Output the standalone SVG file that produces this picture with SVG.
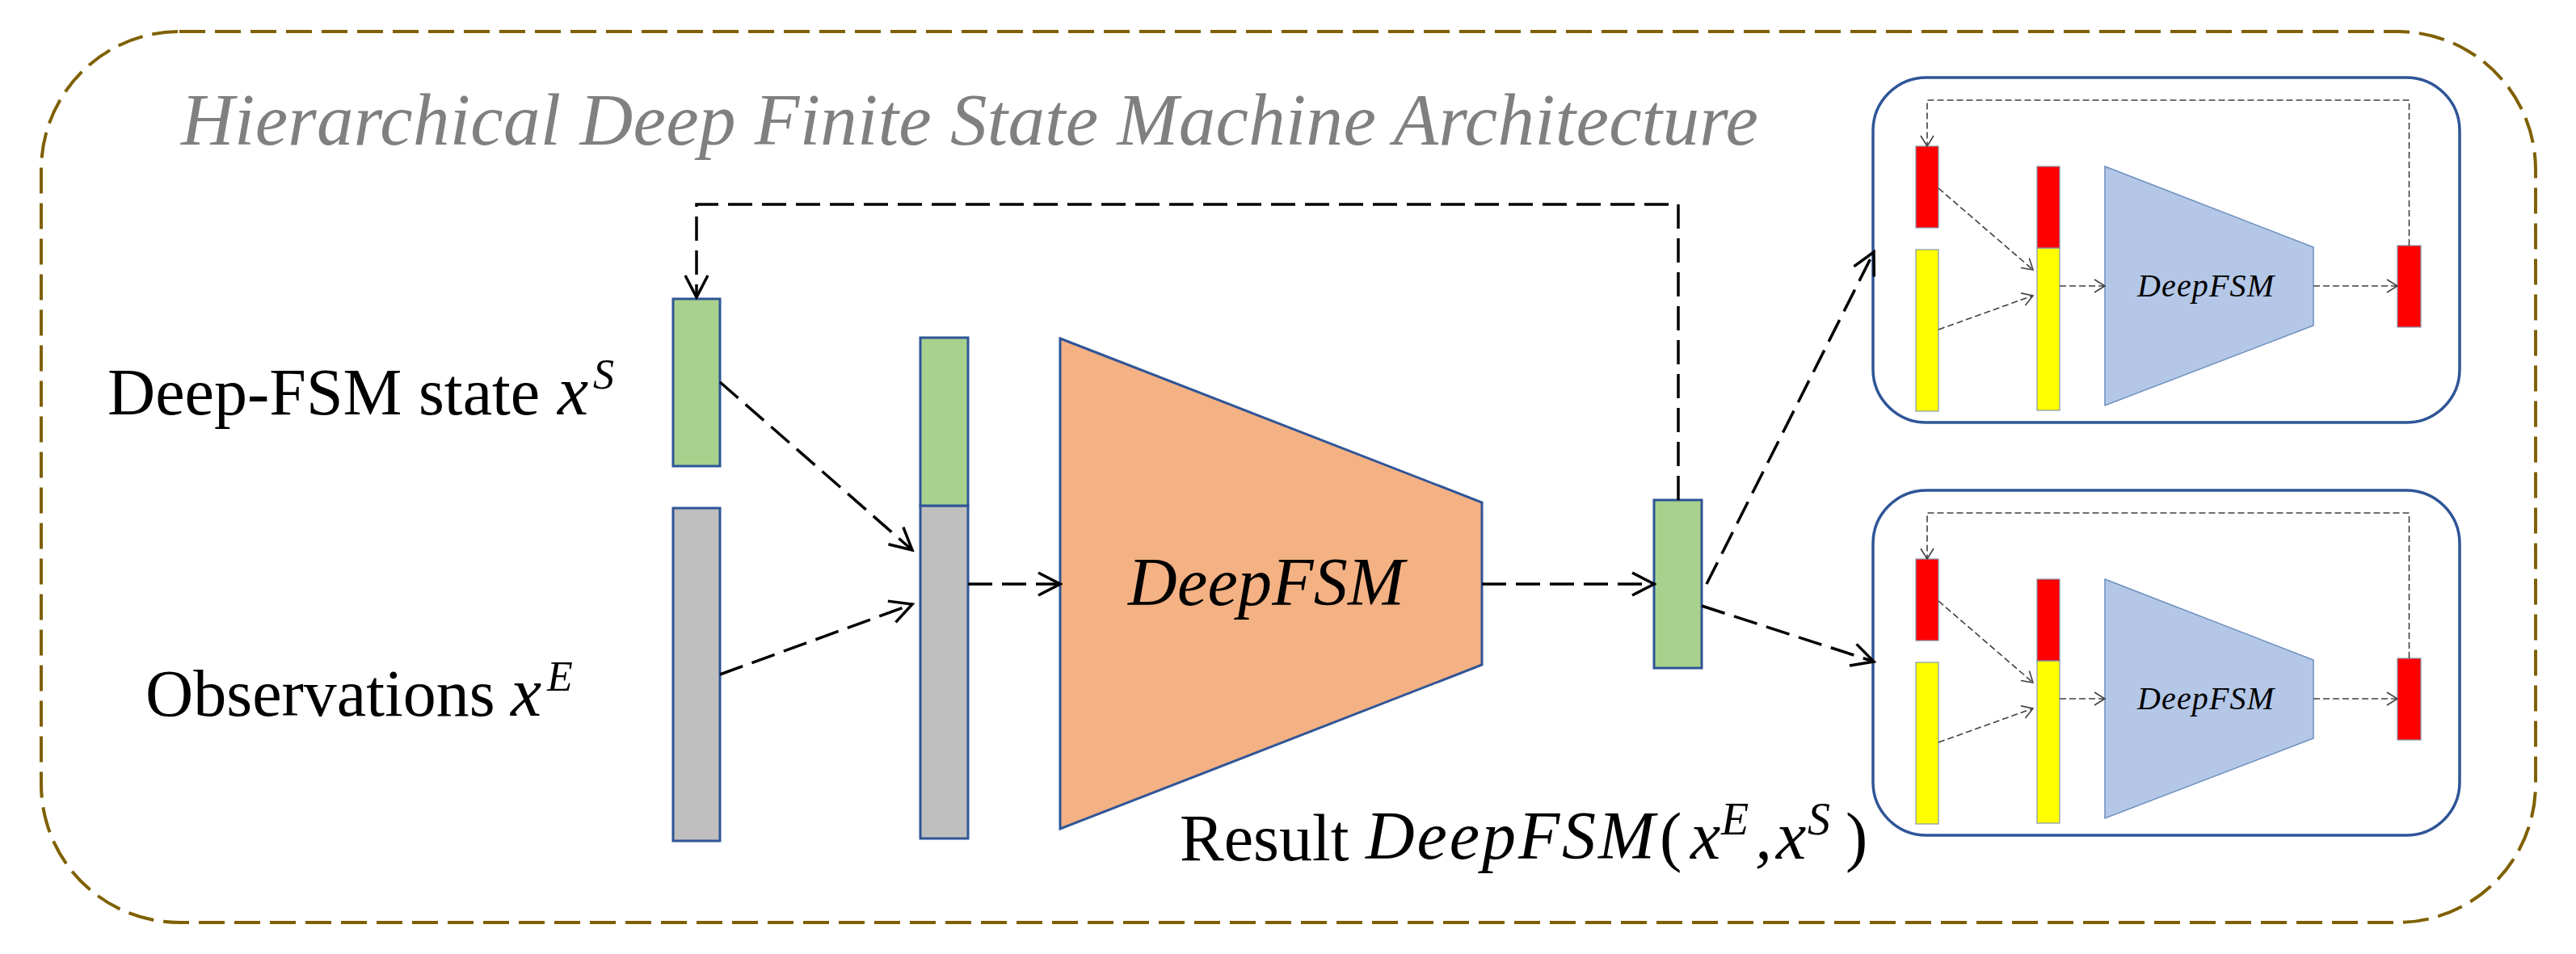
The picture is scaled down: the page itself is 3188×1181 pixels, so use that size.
<svg xmlns="http://www.w3.org/2000/svg" width="3188" height="1181" viewBox="0 0 3188 1181">
<style>
.frame{fill:none;stroke:#7F6000;stroke-width:4;stroke-dasharray:32 12}
.inset{fill:#FFFFFF;stroke:#2F5597;stroke-width:3.5}
.bar{stroke:#2F5597;stroke-width:3}
.green{fill:#A9D18E}
.gray{fill:#BFBFBF}
.orange{fill:#F4B183;stroke:#2F5597;stroke-width:3}
.sbar{stroke:#8497B0;stroke-width:1.2}
.red{fill:#FF0000}
.yellow{fill:#FFFF00}
.btrap{fill:#B4C7E7;stroke:#6C8EBF;stroke-width:1.5}
.conn{fill:none;stroke:#000;stroke-width:3.5;stroke-dasharray:30 12}
.sconn{fill:none;stroke:#404040;stroke-width:1.6;stroke-dasharray:8 4}
.lab{font-family:"Liberation Serif",serif;font-size:82px;fill:#000}
.math{font-family:"Liberation Serif",serif;font-style:italic;fill:#000}
.title{font-family:"Liberation Serif",serif;font-style:italic;font-size:91px;fill:#808080}
</style>
<defs>
<marker id="ah" markerUnits="userSpaceOnUse" viewBox="0 0 32 32" refX="29" refY="16" markerWidth="32" markerHeight="32" orient="auto">
<path d="M2,2 L29,16 L2,30" fill="none" stroke="#000" stroke-width="3.5"/>
</marker>
<marker id="sah" markerUnits="userSpaceOnUse" viewBox="0 0 16 18" refX="14" refY="9" markerWidth="16" markerHeight="18" orient="auto">
<path d="M1,1 L14,9 L1,17" fill="none" stroke="#404040" stroke-width="1.6"/>
</marker>
</defs>
<rect width="3188" height="1181" fill="#FFFFFF"/>

<g id="frame">
<rect class="frame" x="51" y="39" width="3087" height="1103" rx="171" ry="171"/>
<text class="title" x="224" y="179" textLength="1952">Hierarchical Deep Finite State Machine Architecture</text>
</g>

<g id="labels">
<text class="lab" x="133" y="513">Deep-FSM state</text>
<text class="math" x="690" y="513" font-size="86">x</text>
<text class="math" x="734" y="481" font-size="52">S</text>
<text class="lab" x="180" y="886">Observations</text>
<text class="math" x="632" y="886" font-size="86">x</text>
<text class="math" x="677" y="855" font-size="52">E</text>
</g>

<g id="result-label">
<text class="lab" x="1460" y="1065">Result</text>
<text class="math" x="1690" y="1063" font-size="84" textLength="358">DeepFSM</text>
<text class="lab" x="2054" y="1063" font-size="86">(</text>
<text class="math" x="2092" y="1063" font-size="84">x</text>
<text class="math" x="2130" y="1033" font-size="56">E</text>
<text class="math" x="2172" y="1063" font-size="84">,</text>
<text class="math" x="2198" y="1063" font-size="84">x</text>
<text class="math" x="2237" y="1033" font-size="56">S</text>
<text class="lab" x="2284" y="1063" font-size="86">)</text>
</g>

<g id="state-input">
<rect class="bar green" x="833" y="370" width="58" height="207"/>
</g>
<g id="observation-input">
<rect class="bar gray" x="833" y="629" width="58" height="412"/>
</g>
<g id="merged-input">
<rect class="bar gray" x="1139" y="626" width="59" height="412"/>
<rect class="bar green" x="1139" y="418" width="59" height="208"/>
</g>
<g id="deepfsm">
<polygon class="orange" points="1312,419 1834,622 1834,823 1312,1026"/>
<text class="math" x="1396" y="749" font-size="84" textLength="342">DeepFSM</text>
</g>
<g id="result-state">
<rect class="bar green" x="2047" y="619" width="59" height="208"/>
</g>

<g id="inset-top">
<rect class="inset" x="2318" y="96" width="726" height="427" rx="66" ry="66"/>
<rect class="sbar red" x="2371" y="181" width="28" height="101"/>
<rect class="sbar yellow" x="2371" y="309" width="28" height="200"/>
<rect class="sbar yellow" x="2521" y="307" width="28" height="201"/>
<rect class="sbar red" x="2521" y="206" width="28" height="101"/>
<polygon class="btrap" points="2605,206 2863,306 2863,403 2605,502"/>
<text class="math" x="2645" y="367" font-size="40" textLength="169" fill="#1a1a1a">DeepFSM</text>
<rect class="sbar red" x="2967" y="304" width="29" height="101"/>
<g id="inset-top-connectors">
<path class="sconn" d="M2981.5,304 V124 H2385 V181" marker-end="url(#sah)"/>
<path class="sconn" d="M2399,233 L2516,334" marker-end="url(#sah)"/>
<path class="sconn" d="M2399,408 L2516,366" marker-end="url(#sah)"/>
<path class="sconn" d="M2549,354 L2605,354" marker-end="url(#sah)"/>
<path class="sconn" d="M2863,354 L2967,354" marker-end="url(#sah)"/>
</g>
</g>

<g id="inset-bottom" transform="translate(0,511)">
<rect class="inset" x="2318" y="96" width="726" height="427" rx="66" ry="66"/>
<rect class="sbar red" x="2371" y="181" width="28" height="101"/>
<rect class="sbar yellow" x="2371" y="309" width="28" height="200"/>
<rect class="sbar yellow" x="2521" y="307" width="28" height="201"/>
<rect class="sbar red" x="2521" y="206" width="28" height="101"/>
<polygon class="btrap" points="2605,206 2863,306 2863,403 2605,502"/>
<text class="math" x="2645" y="367" font-size="40" textLength="169" fill="#1a1a1a">DeepFSM</text>
<rect class="sbar red" x="2967" y="304" width="29" height="101"/>
<g id="inset-bottom-connectors">
<path class="sconn" d="M2981.5,304 V124 H2385 V181" marker-end="url(#sah)"/>
<path class="sconn" d="M2399,233 L2516,334" marker-end="url(#sah)"/>
<path class="sconn" d="M2399,408 L2516,366" marker-end="url(#sah)"/>
<path class="sconn" d="M2549,354 L2605,354" marker-end="url(#sah)"/>
<path class="sconn" d="M2863,354 L2967,354" marker-end="url(#sah)"/>
</g>
</g>

<g id="connectors">
<path class="conn" d="M2077,619 V253 H862 V368" marker-end="url(#ah)"/>
<path class="conn" d="M891,473 L1129,681" marker-end="url(#ah)"/>
<path class="conn" d="M891,835 L1129,748" marker-end="url(#ah)"/>
<path class="conn" d="M1198,723 L1312,723" marker-end="url(#ah)"/>
<path class="conn" d="M1834,723 L2047,723" marker-end="url(#ah)"/>
<path class="conn" d="M2112,723 L2319,312" marker-end="url(#ah)"/>
<path class="conn" d="M2106,750 L2319,819" marker-end="url(#ah)"/>
</g>
</svg>
